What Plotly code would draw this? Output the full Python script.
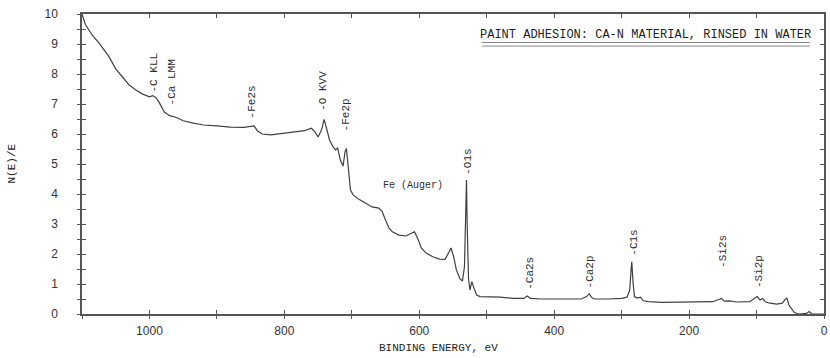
import plotly.graph_objects as go

# Binding energy (eV) and N(E)/E
energy = [1100, 1095, 1085, 1075, 1060, 1050, 1040, 1030, 1020, 1010, 1000, 995, 990, 985,
          978, 970, 960, 950, 935, 920, 900, 880, 860, 850, 845, 840, 833, 820, 800, 780,
          770, 760, 755, 750, 745, 741, 737, 733, 728, 724, 721, 717, 713, 710, 708, 705,
          702, 698, 690, 680, 670, 660, 655, 650, 645, 640, 630, 620, 612, 607, 602, 597,
          590, 580, 570, 562, 557, 553, 549, 545, 540, 536, 533, 531, 530, 529, 527, 525,
          522, 519, 515, 510, 500, 480, 460, 445, 440, 435, 420, 400, 380, 360, 352, 348,
          344, 340, 320, 300, 292, 288, 286, 285, 283, 281, 277, 272, 268, 260, 240, 220,
          200, 180, 165, 155, 152, 148, 140, 130, 120, 110, 102, 99, 95, 91, 87, 80, 70,
          62, 58, 55, 52, 48, 44, 38, 32, 26, 22, 18, 10, 0]
intensity = [10.0, 9.65, 9.3, 9.04, 8.58, 8.17, 7.9, 7.63, 7.47, 7.33, 7.24, 7.28, 7.2, 7.03,
             6.73, 6.61, 6.55, 6.44, 6.36, 6.3, 6.27, 6.23, 6.22, 6.24, 6.27, 6.11, 6.0, 5.97, 6.03, 6.1,
             6.11, 6.19, 6.08, 5.9, 6.13, 6.49, 6.13, 5.8, 5.58, 5.47, 5.53, 5.13, 4.93, 5.41, 5.52, 4.8,
             4.13, 3.97, 3.83, 3.7, 3.57, 3.53, 3.41, 3.13, 2.87, 2.74, 2.63, 2.6, 2.67, 2.74, 2.5, 2.2,
             2.03, 1.91, 1.83, 1.82, 2.02, 2.2, 1.91, 1.47, 1.19, 1.1, 1.58, 4.37, 4.47, 3.0, 1.2, 0.8,
             1.08, 0.87, 0.63, 0.58, 0.58, 0.56, 0.52, 0.52, 0.6, 0.52, 0.5, 0.5, 0.5, 0.5, 0.58, 0.67,
             0.54, 0.5, 0.5, 0.52, 0.56, 0.8, 1.47, 1.74, 1.03, 0.58, 0.53, 0.56, 0.44, 0.41, 0.39, 0.4,
             0.41, 0.41, 0.41, 0.49, 0.52, 0.43, 0.44, 0.4, 0.41, 0.41, 0.54, 0.58, 0.47, 0.52, 0.41, 0.36, 0.33,
             0.36, 0.47, 0.54, 0.3, 0.16, 0.05, 0.0, 0.0, 0.02, 0.08, 0.0, 0.0, 0.0]

# Peak labels (vertical) : text, energy, level of label foot
peak_labels = ["-C KLL", "-Ca LMM", "-Fe2s", "-O KVV", "-Fe2p", "-O1s",
               "-Ca2s", "-Ca2p", "-C1s", "-Si2s", "-Si2p"]
peak_energy = [994, 966, 848, 743, 709, 528, 437, 347, 282, 149, 97]
peak_level = [7.3, 6.9, 6.47, 6.7, 6.03, 4.57, 0.73, 0.8, 1.87, 1.47, 0.8]

auger_label = "Fe (Auger)"
auger_energy = 609
auger_level = 4.27

title_text = "PAINT ADHESION: CA-N MATERIAL, RINSED IN WATER"
x_title = "BINDING ENERGY, eV"
y_title = "N(E)/E"

x_tickvals = [1000, 800, 600, 400, 200, 0]
y_tickvals = list(range(0, 11))

INK = "#2e2e2e"
MONO = "Liberation Mono, DejaVu Sans Mono, monospace"
SANS = "Liberation Sans, Arial, sans-serif"

fig = go.Figure()
fig.add_trace(go.Scatter(x=energy, y=intensity, mode="lines",
                         line=dict(color="#404040", width=1.2),
                         showlegend=False, hoverinfo="skip"))
# ghost trace on overlay axes to draw outward tick halves
fig.add_trace(go.Scatter(x=energy, y=intensity, mode="lines", xaxis="x2", yaxis="y2",
                         line=dict(color="rgba(0,0,0,0)", width=0),
                         showlegend=False, hoverinfo="skip"))

for t, e, v in zip(peak_labels, peak_energy, peak_level):
    fig.add_annotation(x=e, y=v, xref="x", yref="y", text=t, textangle=-90,
                       showarrow=False, xanchor="center", yanchor="bottom",
                       font=dict(family=MONO, size=11, color=INK))

fig.add_annotation(x=auger_energy, y=auger_level, xref="x", yref="y", text=auger_label,
                   showarrow=False, xanchor="center", yanchor="middle",
                   font=dict(family=MONO, size=10, color=INK))

fig.add_annotation(x=0.760, y=0.93, xref="paper", yref="paper", text=title_text,
                   showarrow=False, xanchor="center", yanchor="middle",
                   font=dict(family=MONO, size=12, color="#1e1e1e"))
for yy in (0.905, 0.893):
    fig.add_shape(type="line", xref="paper", yref="paper", x0=0.539, x1=0.981, y0=yy, y1=yy,
                  line=dict(color="#8a8a8a", width=1))

fig.add_annotation(x=572, y=-0.112, xref="x", yref="paper", text=x_title,
                   showarrow=False, xanchor="center", yanchor="middle",
                   font=dict(family=MONO, size=11, color="#222"))
fig.add_annotation(x=-0.095, y=0.5, xref="paper", yref="paper", text=y_title,
                   textangle=-90, showarrow=False, xanchor="center", yanchor="middle",
                   font=dict(family=MONO, size=11, color="#222"))

axis_common = dict(showgrid=False, zeroline=False, linecolor="#555", linewidth=1.5)

fig.update_layout(
    width=830, height=358,
    margin=dict(l=82, r=2, t=14, b=44),
    paper_bgcolor="white", plot_bgcolor="white",
    xaxis=dict(range=[1100, 0], tickvals=x_tickvals, ticks="inside", ticklen=4,
               tickcolor="#555", mirror="ticks", showline=True, ticklabelstandoff=5,
               minor=dict(dtick=100, tick0=0, ticks="inside", ticklen=4, tickcolor="#555"),
               tickfont=dict(family=SANS, size=12, color="#333"), **axis_common),
    yaxis=dict(range=[0, 10], tickvals=y_tickvals, ticks="inside", ticklen=4,
               tickcolor="#555", mirror="ticks", showline=True, ticklabelstandoff=20,
               minor=dict(dtick=0.5, tick0=0, ticks="inside", ticklen=4, tickcolor="#555"),
               tickfont=dict(family=SANS, size=12, color="#333"), **axis_common),
    xaxis2=dict(range=[1100, 0], overlaying="x", side="bottom", tickvals=x_tickvals,
                ticks="outside", ticklen=4, tickcolor="#555", showticklabels=False,
                minor=dict(dtick=100, tick0=0, ticks="outside", ticklen=4, tickcolor="#555"),
                showline=False, showgrid=False, zeroline=False),
    yaxis2=dict(range=[0, 10], overlaying="y", side="left", tickvals=y_tickvals,
                ticks="outside", ticklen=4, tickcolor="#555", showticklabels=False,
                minor=dict(dtick=0.5, tick0=0, ticks="outside", ticklen=4, tickcolor="#555"),
                showline=False, showgrid=False, zeroline=False),
)

fig.write_html("out.html")
